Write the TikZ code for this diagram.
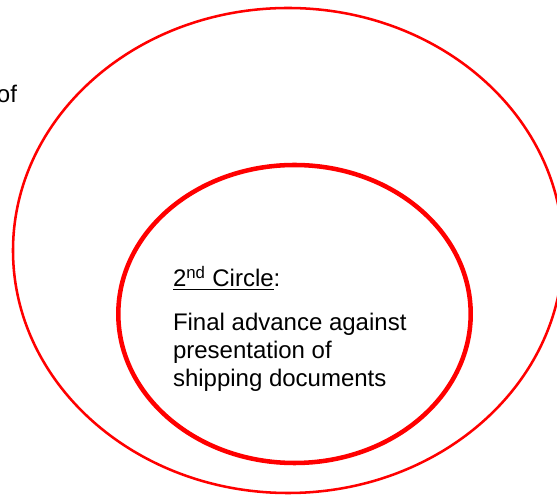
\documentclass[tikz,border=0pt]{standalone}
\usepackage{fontspec}
\setmainfont{Liberation Sans}
\usepackage{tikz}

\begin{document}
\begin{tikzpicture}[x=0.75pt,y=-0.75pt]
      \tikzset{ring/.style={draw=red,
          line width=#1},
        label text/.style={inner sep=0pt,
          outer sep=0pt,
          font=\fontsize{18}{21.2}\selectfont}
      }
      \useasboundingbox (0,0) rectangle (557,498);
      \clip (0,0) rectangle (557,498);
      \draw [ring=1.9pt] (288,250.5) ellipse [x radius=275, y radius=242.5];
      \draw [ring=3.4pt] (294.5,314) ellipse [x radius=176.2, y radius=149];
      \node [label text,anchor=base east] (O) at (17,102.7) {of};
      \node [label text,anchor=base west] (T) at (173,286.7)
        {\underline{2\textsuperscript{nd} Circle}:};
      \node [label text,anchor=base west,align=left] (F) at (173,386.7)
        {Final advance against\\presentation of\\shipping documents};
    \end{tikzpicture}
\end{document}
